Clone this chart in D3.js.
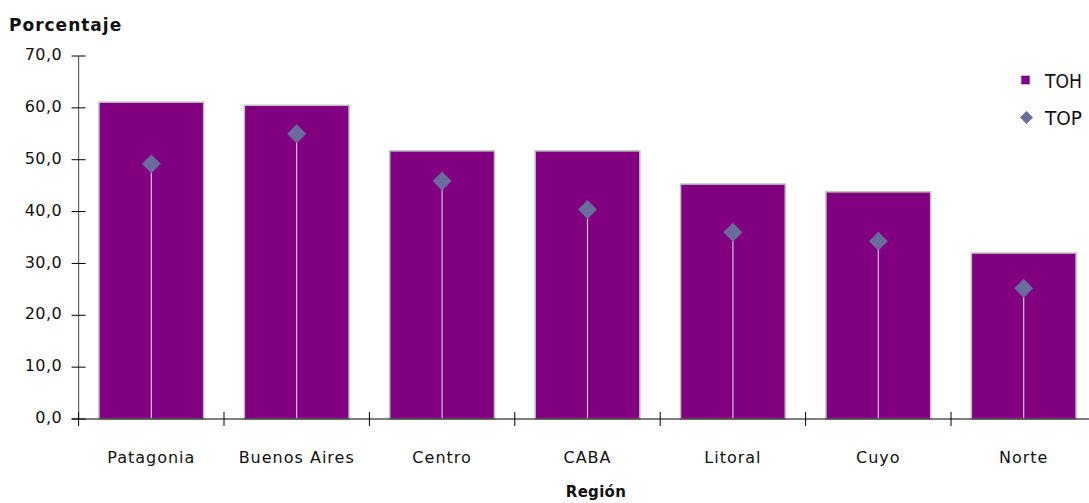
<!DOCTYPE html>
<html><head><meta charset="utf-8">
<script src="https://cdn.jsdelivr.net/npm/d3@7"></script>
<style>body{margin:0;background:#fff}svg{display:block}text{font-family:"DejaVu Sans",sans-serif}</style>
</head><body><svg id="c" width="1089" height="503"></svg>
<script>
const categories = ["Patagonia","Buenos Aires","Centro","CABA","Litoral","Cuyo","Norte"];
const toh = [61.1, 60.5, 51.7, 51.7, 45.3, 43.8, 32.0];
const top_ = [49.2, 55.0, 45.9, 40.4, 36.0, 34.3, 25.2];
const yTicks = [0,10,20,30,40,50,60,70];

const svg = d3.select("#c");
const x0 = 78.6, x1 = 1096.4, yb = 419, yt = 56;
const x = d3.scaleBand().domain(categories).range([x0, x1]).paddingInner(0.28).paddingOuter(0.14);
const y = d3.scaleLinear().domain([0,70]).range([yb, yt]);
const fmt = d => d3.format(".1f")(d).replace(".", ",");

// bars
svg.append("g").selectAll("rect").data(categories).join("rect")
  .attr("x", d => x(d)).attr("width", x.bandwidth())
  .attr("y", (d,i) => y(toh[i])).attr("height", (d,i) => yb - y(toh[i]))
  .attr("fill", "#800080").attr("stroke", "#c0c0c0").attr("stroke-width", 1.5);

// drop lines
svg.append("g").selectAll("line").data(categories).join("line")
  .attr("x1", d => x(d) + x.bandwidth()/2).attr("x2", d => x(d) + x.bandwidth()/2)
  .attr("y1", (d,i) => y(top_[i])).attr("y2", yb)
  .attr("stroke", "#d4c4d8").attr("stroke-width", 1.2);

// diamonds
const sym = d3.symbol().type(d3.symbolSquare).size(180);
svg.append("g").selectAll("path").data(categories).join("path")
  .attr("d", sym)
  .attr("transform", (d,i) => `translate(${x(d)+x.bandwidth()/2},${y(top_[i])}) rotate(45)`)
  .attr("fill", "#6b6b9e");

// y axis
const ya = svg.append("g");
ya.append("line").attr("x1", x0).attr("x2", x0).attr("y1", yt).attr("y2", yb).attr("stroke", "#666").attr("stroke-width", 1.2);
ya.selectAll("line.t").data(yTicks).join("line").attr("class","t")
  .attr("x1", x0-7).attr("x2", x0+7).attr("y1", d => y(d)).attr("y2", d => y(d)).attr("stroke", "#000");
ya.selectAll("text").data(yTicks).join("text")
  .attr("x", 62).attr("y", d => y(d) - 1.5).attr("dy", "0.35em").attr("text-anchor", "end")
  .attr("font-size", 16).attr("letter-spacing", 0.4).attr("fill", "#111").text(fmt);

// x axis
const xa = svg.append("g");
xa.append("line").attr("x1", x0-7).attr("x2", x1).attr("y1", yb).attr("y2", yb).attr("stroke", "#000");
const bounds = d3.range(categories.length+1).map(i => x0 + i * x.step());
xa.selectAll("line.t").data(bounds).join("line").attr("class","t")
  .attr("x1", d => d).attr("x2", d => d).attr("y1", yb-7).attr("y2", yb+7).attr("stroke", "#000");
xa.selectAll("text").data(categories).join("text")
  .attr("x", d => x(d) + x.bandwidth()/2).attr("y", 457).attr("dy", "0.35em")
  .attr("text-anchor", "middle").attr("font-size", 16).attr("letter-spacing", 1).attr("fill", "#111").text(d => d);

// titles
svg.append("text").attr("x", 9).attr("y", 31).attr("font-size", 17).attr("letter-spacing", 1).attr("font-weight", "bold").attr("fill", "#111").text("Porcentaje");
svg.append("text").attr("x", 596).attr("y", 492).attr("dy", "0.35em").attr("text-anchor", "middle").attr("font-size", 15).attr("letter-spacing", 0.3).attr("font-weight", "bold").attr("fill", "#111").text("Región");

// legend
const lg = svg.append("g");
lg.append("rect").attr("x", 1021).attr("y", 75.5).attr("width", 9).attr("height", 9).attr("fill", "#800080").attr("stroke", "#c0c0c0");
lg.append("text").attr("x", 1045).attr("y", 81).attr("dy", "0.35em").attr("font-size", 20).attr("textLength", 37).attr("lengthAdjust", "spacingAndGlyphs").attr("font-family", "Liberation Sans, Arial, sans-serif").attr("fill", "#111").text("TOH");
lg.append("path").attr("d", d3.symbol().type(d3.symbolSquare).size(84)).attr("transform", "translate(1026.5,117.5) rotate(45)").attr("fill", "#6b6b9e");
lg.append("text").attr("x", 1045).attr("y", 118).attr("dy", "0.35em").attr("font-size", 20).attr("textLength", 37).attr("lengthAdjust", "spacingAndGlyphs").attr("font-family", "Liberation Sans, Arial, sans-serif").attr("fill", "#111").text("TOP");
</script></body></html>
